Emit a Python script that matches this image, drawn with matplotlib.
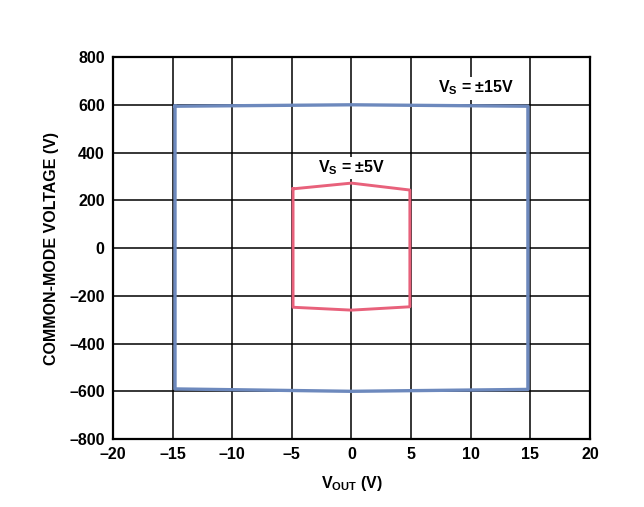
"""Common-mode voltage vs output voltage envelope for two supply voltages."""
import matplotlib
matplotlib.use("Agg")
import matplotlib.pyplot as plt

# Vs = +/-15V envelope (closed polygon)
vout_15 = [-14.8, 0.0, 14.8, 14.8, 0.0, -14.8, -14.8]
vcm_15 = [594, 600, 594, -592, -600, -590, 594]

# Vs = +/-5V envelope (closed polygon)
vout_5 = [-4.9, 0.0, 4.9, 4.9, 0.0, -4.9, -4.9]
vcm_5 = [248, 272, 243, -246, -260, -248, 248]

x_ticks = [-20, -15, -10, -5, 0, 5, 10, 15, 20]
y_ticks = [-800, -600, -400, -200, 0, 200, 400, 600, 800]

BLUE = "#6d89bd"
RED = "#e8617b"

plt.rcParams["font.family"] = ["Liberation Sans", "DejaVu Sans"]
plt.rcParams["font.weight"] = "bold"
plt.rcParams["mathtext.fontset"] = "custom"
plt.rcParams["mathtext.rm"] = "Liberation Sans:bold"
plt.rcParams["mathtext.it"] = "Liberation Sans:bold"
plt.rcParams["mathtext.bf"] = "Liberation Sans:bold"

fig = plt.figure(figsize=(6.44, 5.07), dpi=100)
ax = fig.add_axes([0.1755, 0.134, 0.7405, 0.7535])

ax.plot(vout_15, vcm_15, color=BLUE, linewidth=2.4, zorder=3)
ax.plot(vout_5, vcm_5, color=RED, linewidth=2.1, zorder=3)

ax.set_xlim(-20, 20)
ax.set_ylim(-800, 800)
ax.set_xticks(x_ticks)
ax.set_yticks(y_ticks)
ax.set_xticklabels([str(v).replace("-", "\u2013") for v in x_ticks])
ax.set_yticklabels([str(v).replace("-", "\u2013") for v in y_ticks])
ax.tick_params(length=0, labelsize=11.5, pad=6)
for lab in ax.get_xticklabels() + ax.get_yticklabels():
    lab.set_fontweight("bold")

ax.grid(True, color="black", linewidth=1.1)
ax.set_axisbelow(True)
for sp in ax.spines.values():
    sp.set_linewidth(1.6)
    sp.set_color("black")

ax.set_xlabel(r"$\mathrm{V_{OUT}}$ (V)", fontsize=11.5, fontweight="bold", labelpad=8)
ax.set_ylabel("COMMON-MODE VOLTAGE (V)", fontsize=11.5, fontweight="bold", labelpad=7)

box = dict(facecolor="white", edgecolor="none", pad=1.5)
ax.text(10.45, 670, r"$\mathrm{V_S}$ = " + "\u00b115V", ha="center", va="center",
        fontsize=11.5, fontweight="bold", bbox=box, zorder=4)
ax.text(0.05, 335, r"$\mathrm{V_S}$ = " + "\u00b15V", ha="center", va="center",
        fontsize=11.5, fontweight="bold", bbox=box, zorder=4)

fig.savefig("out.png", dpi=100)
